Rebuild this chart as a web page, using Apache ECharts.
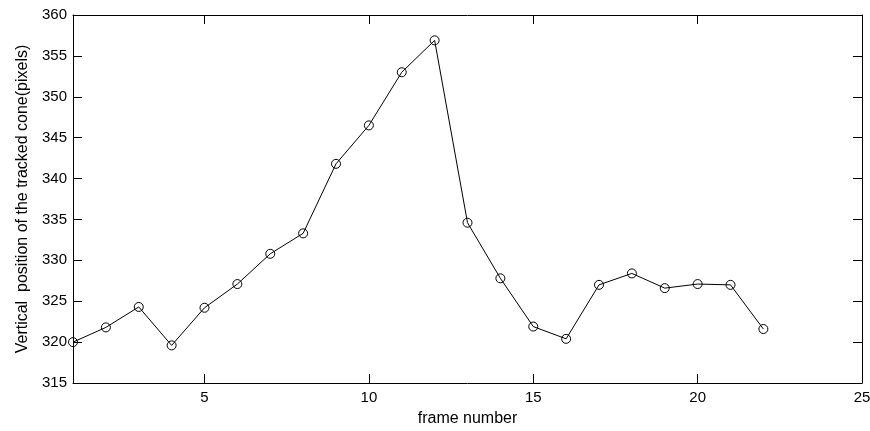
<!DOCTYPE html>
<html>
<head>
<meta charset="utf-8">
<script src="https://cdn.jsdelivr.net/npm/echarts@6/dist/echarts.min.js"></script>
<style>html,body{margin:0;padding:0;background:#fff;}#c{width:870px;height:431px;}</style>
</head>
<body>
<div id="c"></div>
<script>
const frames = [1,2,3,4,5,6,7,8,9,10,11,12,13,14,15,16,17,18,19,20,21,22];
const positions = [320.0,321.8,324.3,319.6,324.2,327.1,330.8,333.3,341.8,346.5,353.0,356.9,334.6,327.8,321.9,320.4,327.0,328.4,326.6,327.1,327.0,321.6];
const xTitle = 'frame number';
const yTitle = 'Vertical  position of the tracked cone(pixels)';

const font = 'Liberation Sans, Arial, sans-serif';
const lineStyle = {color:'#000', width:1};
const chart = echarts.init(document.getElementById('c'));
const xBase = {type:'value', min:1, max:25, splitNumber:5,
  axisLine:{show:true, onZero:false, lineStyle}, axisTick:{show:true, inside:true, length:9, lineStyle},
  splitLine:{show:false}};
const yBase = {type:'value', min:315, max:360, interval:5,
  axisLine:{show:true, onZero:false, lineStyle}, axisTick:{show:true, inside:true, length:9, lineStyle},
  splitLine:{show:false}};
chart.setOption({
  animation:false,
  backgroundColor:'#fff',
  grid:{left:73, right:8, top:15, bottom:48, outerBoundsMode:'none', containLabel:false},
  xAxis:[
    Object.assign({}, xBase, {position:'bottom', name:xTitle, nameLocation:'middle', nameGap:28,
      nameTextStyle:{color:'#000', fontFamily:font, fontSize:16},
      axisLabel:{color:'#000', fontFamily:font, fontSize:15, margin:7,
        formatter:v => (v % 5 === 0 ? String(v) : '')}}),
    Object.assign({}, xBase, {position:'top', axisLabel:{show:false}})
  ],
  yAxis:[
    Object.assign({}, yBase, {position:'left', name:yTitle, nameLocation:'middle', nameGap:40,
      nameTextStyle:{color:'#000', fontFamily:font, fontSize:16},
      axisLabel:{color:'#000', fontFamily:font, fontSize:15, margin:6}}),
    Object.assign({}, yBase, {position:'right', axisLabel:{show:false}})
  ],
  series:[{
    type:'line',
    data: frames.map((f,i)=>[f, positions[i]]),
    symbol:'circle', symbolSize:9,
    lineStyle:{color:'#000', width:1},
    itemStyle:{color:'rgba(0,0,0,0)', borderColor:'#000', borderWidth:1},
    z:3
  }]
});
</script>
</body>
</html>
